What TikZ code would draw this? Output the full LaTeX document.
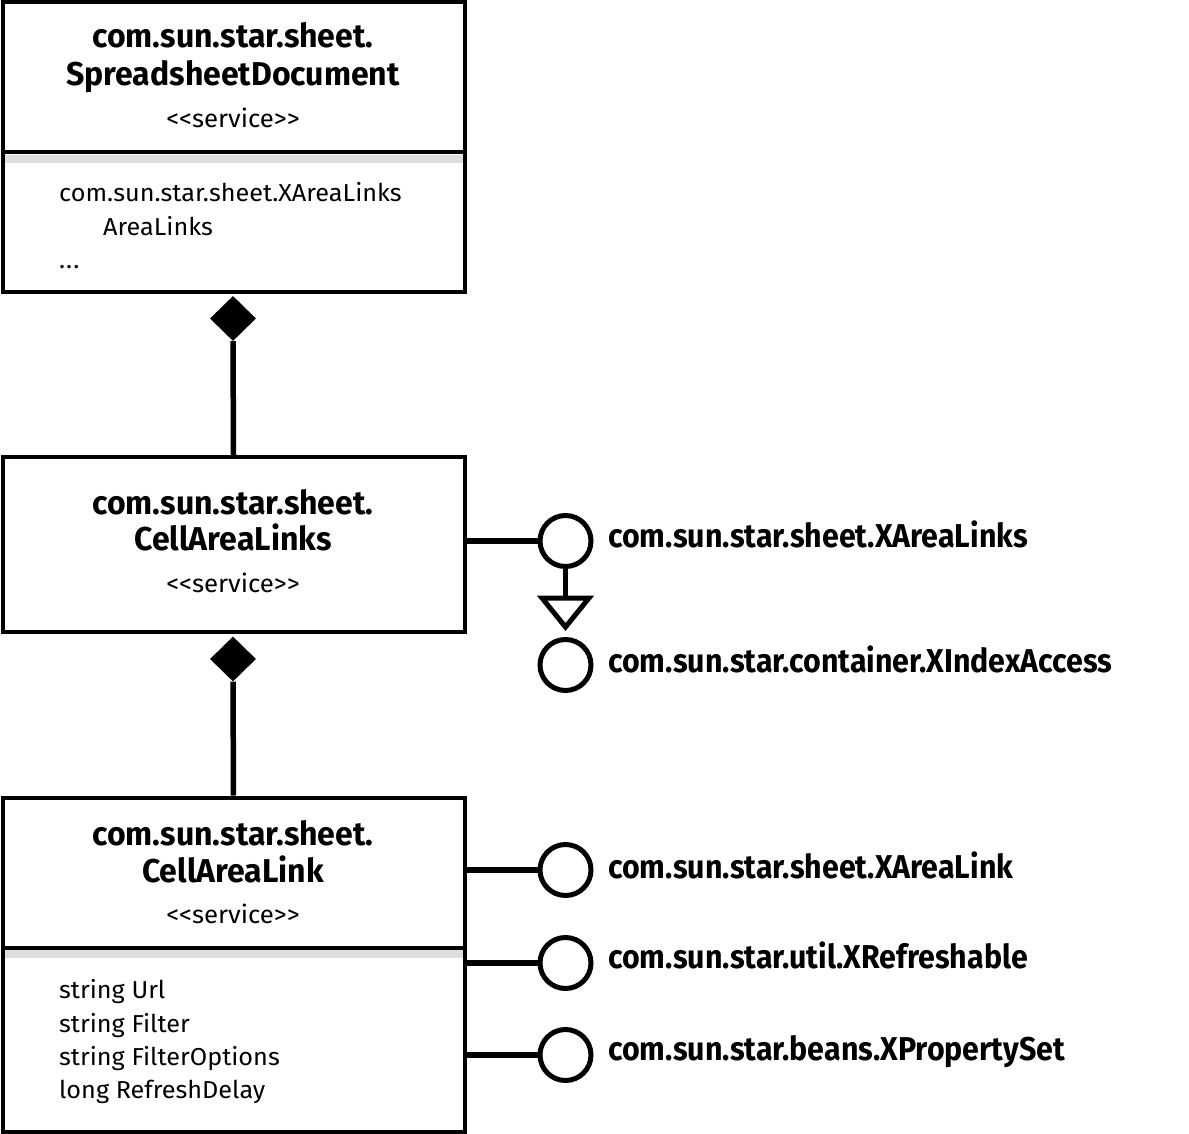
\documentclass[tikz,border=0pt]{standalone}
\usepackage{fontspec}
\setmainfont{Fira Sans}
\newfontfamily\titlefont{Fira Sans}[FakeStretch=0.97]
\newfontfamily\ifacefont{Fira Sans}[FakeStretch=0.92]
\newfontfamily\attrfont{Fira Sans}[FakeStretch=1.03]
\usetikzlibrary{shapes.geometric}
\definecolor{bandgray}{gray}{0.87}
\newcommand{\stereotype}{<\kern0pt<service>\kern0pt>}
\tikzset{
  x=1pt,y=-1pt,
  umlbox/.style={draw,line width=4pt,inner sep=0pt},
  wire/.style={line width=5.5pt},
  lolly/.style={circle,draw,line width=5pt,minimum size=51pt,inner sep=0pt},
  titletext/.style={font=\titlefont\fontsize{33}{37}\selectfont\bfseries,anchor=base,inner sep=0pt},
  stereo/.style={font=\attrfont\fontsize{25}{30}\selectfont,anchor=base,inner sep=0pt},
  attr/.style={font=\attrfont\fontsize{24.5}{33}\selectfont,anchor=base west,inner sep=0pt},
  iflabel/.style={font=\ifacefont\fontsize{33}{37}\selectfont\bfseries,anchor=base west,inner sep=0pt},
  compdiamond/.style={diamond,fill=black,minimum width=46pt,minimum height=45pt,inner sep=0pt},
  gentri/.style={draw,line width=5pt,line join=miter}
}
\begin{document}
\begin{tikzpicture}
\useasboundingbox (0,0) rectangle (1189,1134);
% Box 1
\fill[bandgray] (3,155) rectangle (464,163);
\draw[line width=4pt] (3,152.5) -- (464,152.5);
\node[umlbox,minimum width=462pt,minimum height=289pt] (b1) at (233.5,147) {};
\node[titletext] (b1t1) at (233,48) {com.sun.star.sheet.};
\node[titletext] (b1t2) at (233,86) {SpreadsheetDocument};
\node[stereo] (b1s) at (233,128) {\stereotype};
\node[attr] (b1a1) at (59,202) {com.sun.star.sheet.XAreaLinks};
\node[attr] (b1a2) at (103,236) {AreaLinks};
\node[attr] (b1a3) at (59,269) {.\kern1pt.\kern1pt.};
% Box 2
\node[umlbox,minimum width=462pt,minimum height=175pt] (b2) at (233.5,544.5) {};
\node[titletext] (b2t1) at (233,514) {com.sun.star.sheet.};
\node[titletext] (b2t2) at (233,550) {CellAreaLinks};
\node[stereo] (b2s) at (233,592) {\stereotype};
% Box 3
\fill[bandgray] (3,950) rectangle (464,958);
\draw[line width=4pt] (3,947.5) -- (464,947.5);
\node[umlbox,minimum width=462pt,minimum height=334pt] (b3) at (233.5,964.5) {};
\node[titletext] (b3t1) at (233,845) {com.sun.star.sheet.};
\node[titletext] (b3t2) at (233,882) {CellAreaLink};
\node[stereo] (b3s) at (233,923) {\stereotype};
\node[attr] (b3a1) at (59,998) {string Url};
\node[attr] (b3a2) at (59,1032) {string Filter};
\node[attr] (b3a3) at (59,1065) {string FilterOptions};
\node[attr] (b3a4) at (59,1098) {long RefreshDelay};
% compositions
\node[compdiamond] (d1) at (233,318.5) {};
\draw[wire] (d1.south) -- (b2.north);
\node[compdiamond] (d2) at (233,659) {};
\draw[wire] (d2.south) -- (b3.north);
% interfaces
\node[lolly] (i1) at (565.5,541) {};
\node[iflabel] (l1) at (608,547) {com.sun.star.sheet.XAreaLinks};
\draw[wire] (b2.east |- i1) -- (i1.west);
\coordinate (tritop) at (565.5,598);
\draw[gentri] (542,598) -- (589,598) -- (565.5,627) -- cycle;
\draw[wire] (i1.south) -- (tritop);
\node[lolly] (i2) at (565.5,665) {};
\node[iflabel] (l2) at (608,672) {com.sun.star.container.XIndexAccess};
\node[lolly] (i3) at (565.5,870) {};
\node[iflabel] (l3) at (608,878) {com.sun.star.sheet.XAreaLink};
\draw[wire] (b3.east |- i3) -- (i3.west);
\node[lolly] (i4) at (565.5,963) {};
\node[iflabel] (l4) at (608,968) {com.sun.star.util.XRefreshable};
\draw[wire] (b3.east |- i4) -- (i4.west);
\node[lolly] (i5) at (565.5,1055) {};
\node[iflabel] (l5) at (608,1060) {com.sun.star.beans.XPropertySet};
\draw[wire] (b3.east |- i5) -- (i5.west);
\end{tikzpicture}
\end{document}
